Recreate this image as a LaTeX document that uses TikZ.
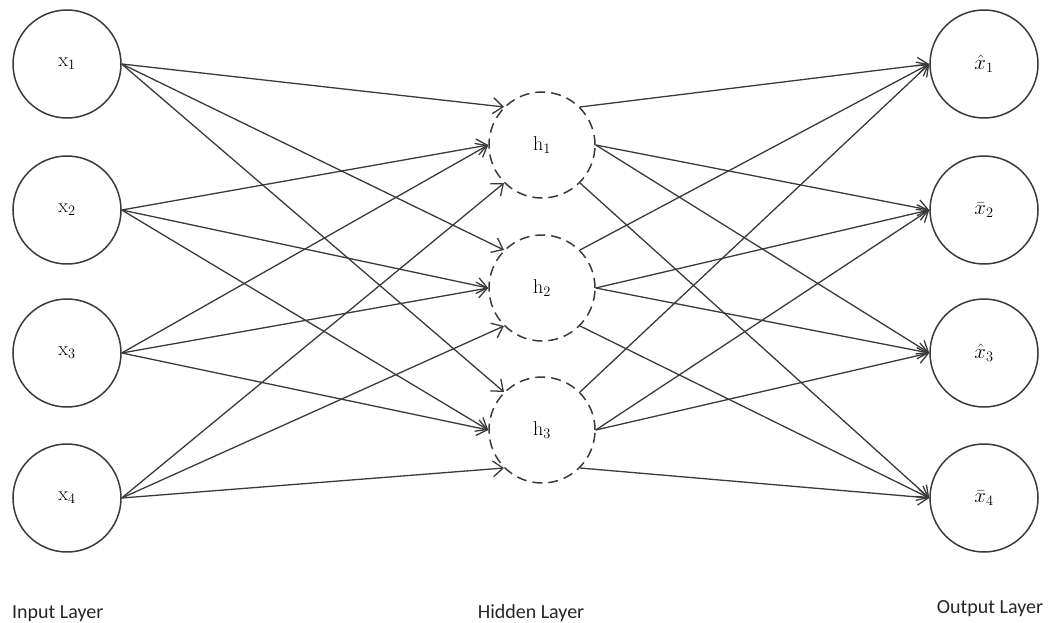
\documentclass[tikz,border=0pt]{standalone}
\usepackage{fontspec}
\newfontfamily\lblfont{Carlito}
\usetikzlibrary{arrows.meta}
\definecolor{ink}{HTML}{3A3A3A}
\tikzset{
  neuron/.style={circle, draw=ink, line width=1.5pt, minimum size=108pt, inner sep=0pt, font=\fontsize{20}{22}\selectfont},
  hid/.style={neuron, dashed, dash pattern=on 10pt off 6pt, minimum size=106pt},
  edge/.style={draw=ink, line width=1.3pt, -{Straight Barb[length=10pt,width=16pt,line width=1.3pt]}},
  lbl/.style={font=\lblfont\fontsize{20}{22}\selectfont, text=black!85, anchor=base, inner sep=0pt}
}
\begin{document}
\begin{tikzpicture}[x=1pt,y=-1pt]
\useasboundingbox (0,0) rectangle (1049,623);
% input layer
\node[neuron] (x1) at (67,64)  {x$_1$};
\node[neuron] (x2) at (67,210) {x$_2$};
\node[neuron] (x3) at (67,353) {x$_3$};
\node[neuron] (x4) at (67,498) {x$_4$};
% hidden layer
\node[hid] (h1) at (542,145) {h$_1$};
\node[hid] (h2) at (542,288) {h$_2$};
\node[hid] (h3) at (542,430) {h$_3$};
% output layer
\node[neuron] (o1) at (984,64)  {$\hat{x}_1$};
\node[neuron] (o2) at (984,210) {$\bar{x}_2$};
\node[neuron] (o3) at (984,353) {$\hat{x}_3$};
\node[neuron] (o4) at (984,498) {$\bar{x}_4$};
% input -> hidden
\foreach \h in {h1,h2,h3}{
  \draw[edge] (x1.east) -- (\h.135);
  \draw[edge] (x2.east) -- (\h.180);
  \draw[edge] (x3.east) -- (\h.180);
  \draw[edge] (x4.east) -- (\h.225);
}
% hidden -> output
\foreach \h in {h1,h2,h3}{
  \draw[edge] (\h.45)  -- (o1.west);
  \draw[edge] (\h.0)   -- (o2.west);
  \draw[edge] (\h.0)   -- (o3.west);
  \draw[edge] (\h.-45) -- (o4.west);
}
% layer labels
\node[lbl, anchor=base west] (lin) at (12,618) {Input Layer};
\node[lbl] (lhid) at (531,618) {Hidden Layer};
\node[lbl] (lout) at (990,613) {Output Layer};
\end{tikzpicture}
\end{document}
